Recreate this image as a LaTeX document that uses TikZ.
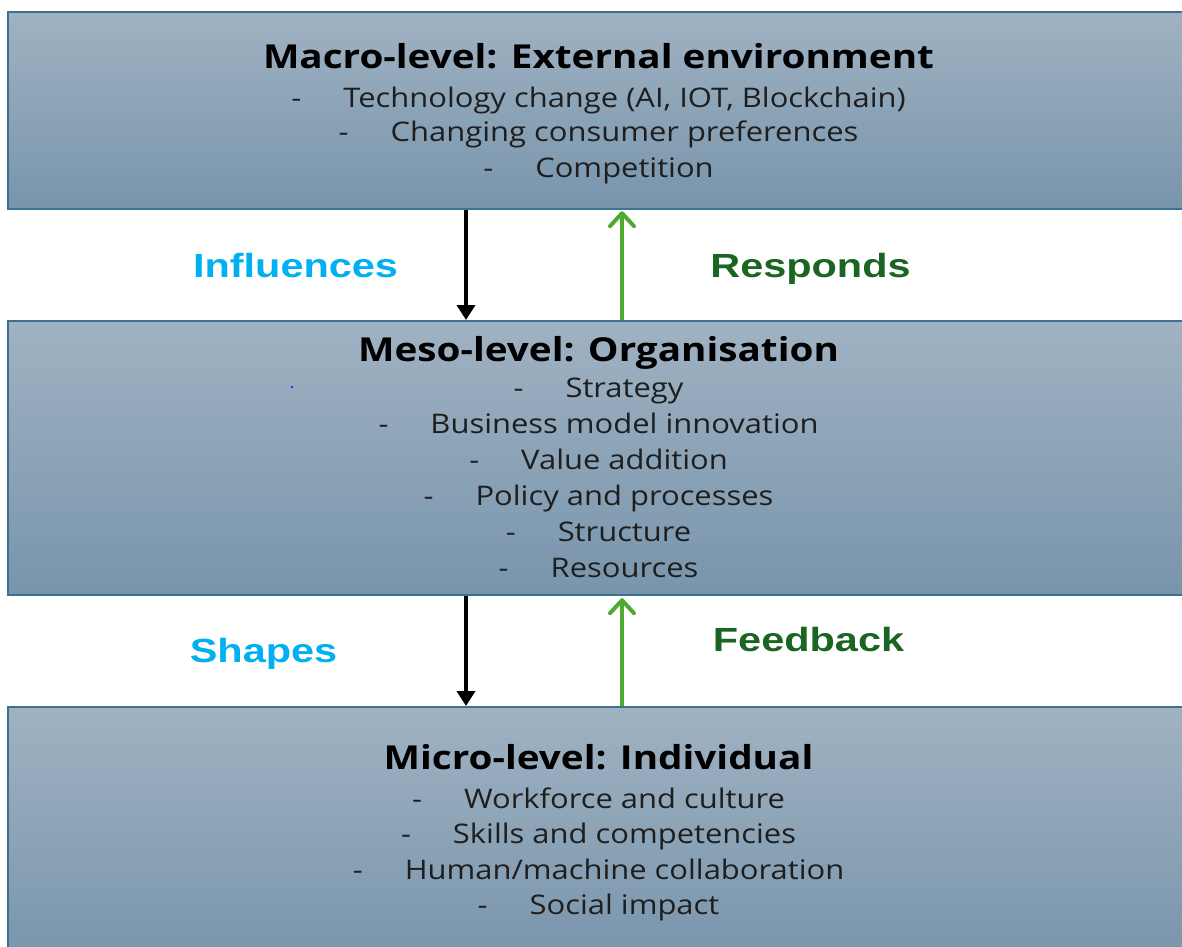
\documentclass[tikz,border=0pt]{standalone}
\usepackage{fontspec}
\setmainfont{Open Sans}
\newfontfamily\lblfamily{Liberation Sans}
\usetikzlibrary{arrows.meta}

\definecolor{boxtop}{HTML}{A0B2C2}
\definecolor{boxbottom}{HTML}{7895AC}
\definecolor{boxedge}{HTML}{3D7191}
\definecolor{influencecyan}{HTML}{00B0F0}
\definecolor{respondgreen}{HTML}{1B6522}
\definecolor{arrowgreen}{HTML}{4FAA30}
\definecolor{itemgray}{HTML}{1E1E1E}

\newcommand\titlefont{\bfseries\fontsize{33}{40}\selectfont}
\newcommand\itemfont{\fontsize{27}{36}\selectfont}
\newcommand\lblfont{\lblfamily\bfseries\fontsize{33.5}{40}\selectfont}
\newlength\natw

% horizontally stretched text helpers (stretch factors set in the document)
\newcommand\ttl[1]{\scalebox{\titlesx}[1]{\titlefont #1}}
\newcommand\itm[1]{\scalebox{\itemsx}[1]{\itemfont\makebox[\dashgap][l]{-}#1}}
\newcommand\lbl[1]{\scalebox{\lblsx}[1]{\lblfont #1}}

\begin{document}
\settowidth\natw{\titlefont Macro-level: External environment}
\pgfmathsetmacro\titlesx{671/\natw}
\settowidth\natw{\itemfont Business model innovation}
\pgfmathsetmacro\itemsx{388/\natw}
\pgfmathsetlengthmacro\dashgap{52pt/\itemsx}
\settowidth\natw{\lblfont Influences}
\pgfmathsetmacro\lblsx{205/\natw}
\begin{tikzpicture}[x=1pt,y=-1pt,
  levelbox/.style={draw=boxedge, line width=2.2pt, top color=boxtop,
    bottom color=boxbottom, rectangle, inner sep=0pt, anchor=north west},
  ttlnode/.style={anchor=base, inner sep=0pt, text=black},
  itmnode/.style={anchor=base, inner sep=0pt, text=itemgray},
  lblnode/.style={anchor=base, inner sep=0pt},
  downarrow/.style={draw=black, line width=4pt,
    -{Triangle[length=15pt,width=18pt]}},
  uparrow/.style={draw=arrowgreen, line width=4pt,
    -{Straight Barb[length=13pt,width=24pt,round]}}]
\useasboundingbox (0,0) rectangle (1182,946);

% the three levels
\node[levelbox, minimum width=1183pt, minimum height=197pt] (macro) at (7,11) {};
\node[levelbox, minimum width=1183pt, minimum height=274pt] (meso) at (7,320) {};
\node[levelbox, minimum width=1183pt, minimum height=254pt] (micro) at (7,706) {};

% macro level
\node[ttlnode] (macroT) at (598.5,68) {\ttl{Macro-level: External environment}};
\node[itmnode] (macro1) at (598.5,107) {\itm{Technology change (AI, IOT, Blockchain)}};
\node[itmnode] (macro2) at (598.5,141) {\itm{Changing consumer preferences}};
\node[itmnode] (macro3) at (598.5,177) {\itm{Competition}};

% meso level
\node[ttlnode] (mesoT) at (598.5,361) {\ttl{Meso-level: Organisation}};
\node[itmnode] (meso1) at (598.5,397) {\itm{Strategy}};
\node[itmnode] (meso2) at (598.5,433) {\itm{Business model innovation}};
\node[itmnode] (meso3) at (598.5,469) {\itm{Value addition}};
\node[itmnode] (meso4) at (598.5,505) {\itm{Policy and processes}};
\node[itmnode] (meso5) at (598.5,541) {\itm{Structure}};
\node[itmnode] (meso6) at (598.5,577) {\itm{Resources}};
\fill[blue] (292,387) circle (1.2pt);

% micro level
\node[ttlnode] (microT) at (598.5,769) {\ttl{Micro-level: Individual}};
\node[itmnode] (micro1) at (598.5,808) {\itm{Workforce and culture}};
\node[itmnode] (micro2) at (598.5,843) {\itm{Skills and competencies}};
\node[itmnode] (micro3) at (598.5,879) {\itm{Human/machine collaboration}};
\node[itmnode] (micro4) at (598.5,914) {\itm{Social impact}};

% connectors
\coordinate (xdown) at (466,0);
\coordinate (xup) at (622,0);
\draw[downarrow] (macro.south -| xdown) -- (meso.north -| xdown);
\draw[uparrow, shorten >=1pt] (meso.north -| xup) -- (macro.south -| xup);
\draw[downarrow] (meso.south -| xdown) -- (micro.north -| xdown);
\draw[uparrow, shorten >=2pt] (micro.north -| xup) -- (meso.south -| xup);

% connector labels
\node[lblnode, text=influencecyan] (lInfl) at (295.5,277) {\lbl{Influences}};
\node[lblnode, text=respondgreen] (lResp) at (810.5,277) {\lbl{Responds}};
\node[lblnode, text=influencecyan] (lShape) at (263.5,662) {\lbl{Shapes}};
\node[lblnode, text=respondgreen] (lFeed) at (808.5,651) {\lbl{Feedback}};
\end{tikzpicture}
\end{document}
